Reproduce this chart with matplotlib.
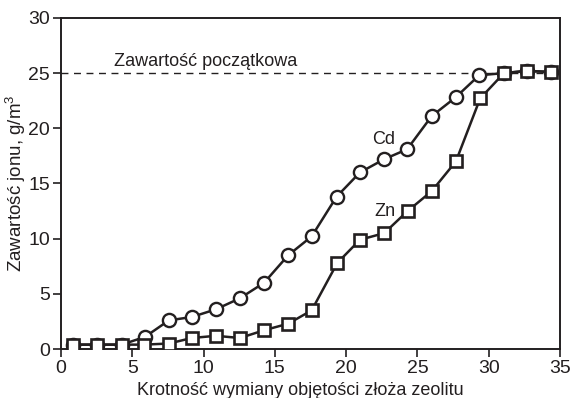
import matplotlib
matplotlib.use("Agg")
import matplotlib.pyplot as plt

plt.rcParams['font.family'] = ['Liberation Sans', 'DejaVu Sans']
plt.rcParams['mathtext.fontset'] = 'custom'
plt.rcParams['mathtext.rm'] = 'Liberation Sans'
plt.rcParams['mathtext.it'] = 'Liberation Sans'

cd_x = [0.86, 2.5, 4.26, 5.89, 7.57, 9.17, 10.87, 12.55, 14.24, 15.94, 17.58, 19.33, 20.97, 22.67, 24.28, 26.0, 27.68, 29.33, 31.07, 32.66, 34.4]
cd_y = [0.4, 0.4, 0.4, 1.1, 2.6, 2.9, 3.6, 4.6, 6.0, 8.5, 10.2, 13.8, 16.0, 17.2, 18.1, 21.1, 22.8, 24.8, 25.0, 25.2, 25.1]

zn_x = [0.86, 2.5, 4.26, 5.82, 7.57, 9.17, 10.87, 12.55, 14.24, 15.94, 17.58, 19.38, 20.97, 22.67, 24.31, 26.0, 27.7, 29.4, 31.07, 32.66, 34.4]
zn_y = [0.4, 0.4, 0.4, 0.4, 0.5, 1.0, 1.2, 1.0, 1.7, 2.3, 3.5, 7.8, 9.9, 10.5, 12.5, 14.3, 17.0, 22.7, 25.0, 25.2, 25.1]

initial_level = 25
x_ticks = [0, 5, 10, 15, 20, 25, 30, 35]
y_ticks = [0, 5, 10, 15, 20, 25, 30]

col = '#231f20'
fig = plt.figure(figsize=(5.72, 3.98), dpi=100)
ax = fig.add_axes([0.1066, 0.123, 0.8724, 0.832])

ax.axhline(initial_level, color=col, lw=1.0, ls=(0, (5, 4)), zorder=1)
ax.plot(cd_x, cd_y, color=col, lw=1.8, marker='o', ms=9.5, mfc='white', mec=col, mew=1.7, zorder=2)
ax.plot(zn_x, zn_y, color=col, lw=1.8, marker='s', ms=8, mfc='white', mec=col, mew=1.9, zorder=3)

ax.text(3.75, 25.6, 'Zawartość początkowa', fontsize=13, color=col, ha='left', va='baseline')
ax.text(22.65, 19.0, 'Cd', fontsize=13, color=col, ha='center', va='center')
ax.text(22.7, 12.5, 'Zn', fontsize=13, color=col, ha='center', va='center')

ax.set_xlim(0, 35)
ax.set_ylim(0, 30)
ax.set_xticks(x_ticks)
ax.set_yticks(y_ticks)
ax.tick_params(direction='out', length=6, width=1.2, labelsize=14, colors=col, pad=2)
for s in ax.spines.values():
    s.set_linewidth(1.4)
    s.set_color(col)
ax.set_xlabel('Krotność wymiany objętości złoża zeolitu', fontsize=13, color=col, labelpad=-1)
ax.xaxis.set_label_coords(0.48, -0.1)
ax.set_ylabel('Zawartość jonu, g/m$^3$', fontsize=13.5, color=col, labelpad=0)

fig.savefig('out.png', dpi=100)
